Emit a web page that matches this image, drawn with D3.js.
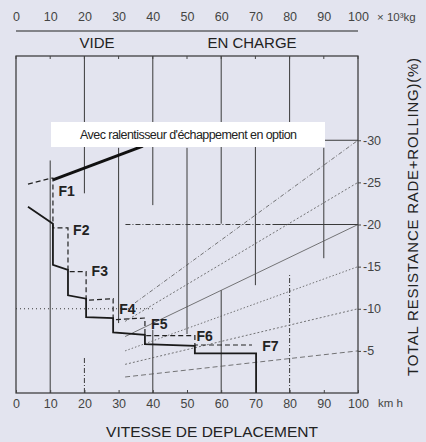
<!DOCTYPE html>
<html>
<head>
<meta charset="utf-8">
<script src="https://cdnjs.cloudflare.com/ajax/libs/d3/7.8.5/d3.min.js"></script>
<style>
  body { margin: 0; background: #e3e4ef; }
  svg { display: block; font-family: "Liberation Sans", Arial, sans-serif; }
</style>
</head>
<body>
<svg></svg>
<script>
// tick values
let speedTicks = [0, 10, 20, 30, 40, 50, 60, 70, 80, 90, 100];
let weightTicks = [0, 10, 20, 30, 40, 50, 60, 70, 80, 90, 100];
let resistTicks = [5, 10, 15, 20, 25, 30];

let gears = ["F1", "F2", "F3", "F4", "F5", "F6", "F7"];
// where each gear label sits [km/h, %]
let gearLabelAt = [[12.4, 23.4], [16.7, 18.8], [22.1, 13.9], [30.2, 9.4], [39.5, 7.6], [52.8, 6.2], [72.0, 5.0]];

// main curve (solid), [km/h, %]
let rimpull = [[3.5, 22.1], [10.8, 20.1], [10.8, 15.2], [15.2, 14.6], [15.2, 11.6], [20.5, 11.2],
  [20.5, 9.0], [28.4, 8.9], [28.4, 7.2], [37.7, 6.9], [37.7, 5.8], [52.3, 5.6], [52.3, 4.7],
  [70.2, 4.7], [70.2, 0]];

// gear steps (dashed)
let gearSteps = [[3.5, 24.8], [10.2, 25.5], [10.8, 25.5], [10.8, 19.6], [15.2, 19.6], [15.2, 14.4],
  [20.5, 14.4], [20.5, 11.0], [28.4, 11.2], [28.4, 8.7], [37.7, 8.9], [37.7, 6.8], [52.3, 6.8],
  [52.3, 5.7], [69.0, 5.7]];

// retarder line
let retarder = [[10.8, 25.3], [37.1, 29.3]];

// resistance lines: start point, end value at 100
let gradeStart = [[34.8, 10.7], [31.9, 8.5], [31.9, 6.7], [31.9, 5.0], [31.9, 3.4], [31.9, 1.9]];
let gradeEnd = [30, 25, 20, 15, 10, 5];

// vertical grid pieces [km/h, from %, to %]
let gridSolid = [[10, 0, 27.6], [20, 23.7, 40], [30, 8.3, 29.1], [40, 22.3, 40], [40, 0, 7.5],
  [50, 7.0, 29.1], [60, 20.1, 40], [60, 0, 12.2], [70, 12.8, 30], [80, 32.1, 40], [90, 16.0, 29.1]];
let gridDashDot = [[20, 0, 4.3], [80, 0, 14]];
// horizontal grid pieces [%, from km/h, to km/h]
let hSolid = [[30, 70, 100], [20, 75, 100]];
let hDashDot = [[20, 32, 75]];
let hDotted = [[10, 0, 40]];

let width = 426;
let height = 442;
let padLeft = 16, padRight = 358, padTop = 56, padBottom = 393;

let svg = d3.select("svg").attr("width", width).attr("height", height);

let xScale = d3.scaleLinear().domain([0, 100]).range([padLeft, padRight]);
let yScale = d3.scaleLinear().domain([0, 40]).range([padBottom, padTop]);

let line = d3.line().x(d => xScale(d[0])).y(d => yScale(d[1]));

// grid
let drawV = (segs, dash) => {
  svg.append("g").selectAll("line")
     .data(segs)
     .enter()
     .append("line")
     .attr("x1", d => xScale(d[0])).attr("x2", d => xScale(d[0]))
     .attr("y1", d => yScale(d[1])).attr("y2", d => yScale(d[2]))
     .attr("stroke", "#3a3a3a")
     .attr("stroke-width", 1)
     .attr("stroke-dasharray", dash)
}
let drawH = (segs, dash) => {
  svg.append("g").selectAll("line")
     .data(segs)
     .enter()
     .append("line")
     .attr("y1", d => yScale(d[0])).attr("y2", d => yScale(d[0]))
     .attr("x1", d => xScale(d[1])).attr("x2", d => xScale(d[2]))
     .attr("stroke", "#3a3a3a")
     .attr("stroke-width", 1)
     .attr("stroke-dasharray", dash)
}
drawV(gridSolid, null);
drawV(gridDashDot, "5,2,1,2");
drawH(hSolid, null);
drawH(hDashDot, "5,2,1,2");
drawH(hDotted, "1,3");

// resistance lines
let gradeDash = ["4,2,1,2", "2,2", null, "1.5,2", "2,2", "5,3"];
svg.append("g").selectAll("line")
   .data(gradeEnd)
   .enter()
   .append("line")
   .attr("x1", (d, i) => xScale(gradeStart[i][0]))
   .attr("y1", (d, i) => yScale(gradeStart[i][1]))
   .attr("x2", xScale(100))
   .attr("y2", d => yScale(d))
   .attr("stroke", "#555")
   .attr("stroke-width", 0.8)
   .attr("stroke-dasharray", (d, i) => gradeDash[i]);

// frame
svg.append("rect")
   .attr("x", padLeft).attr("y", padTop)
   .attr("width", padRight - padLeft).attr("height", padBottom - padTop)
   .attr("fill", "none")
   .attr("stroke", "#333")
   .attr("stroke-width", 1.2);

// small ticks on top of frame
svg.append("g").selectAll("line")
   .data(speedTicks)
   .enter()
   .append("line")
   .attr("x1", d => xScale(d)).attr("x2", d => xScale(d))
   .attr("y1", padTop).attr("y2", padTop + 3)
   .attr("stroke", "#444");

// curves
svg.append("path")
   .datum(gearSteps)
   .attr("d", line)
   .attr("fill", "none")
   .attr("stroke", "#222")
   .attr("stroke-width", 1.2)
   .attr("stroke-dasharray", "5,3");

svg.append("path")
   .datum(rimpull)
   .attr("d", line)
   .attr("fill", "none")
   .attr("stroke", "#1a1a1a")
   .attr("stroke-width", 1.8);

svg.append("path")
   .datum(retarder)
   .attr("d", line)
   .attr("fill", "none")
   .attr("stroke", "#111")
   .attr("stroke-width", 3);

svg.append("g").selectAll("text")
   .data(gears)
   .enter()
   .append("text")
   .attr("x", (d, i) => xScale(gearLabelAt[i][0]))
   .attr("y", (d, i) => yScale(gearLabelAt[i][1]))
   .attr("font-size", 14)
   .attr("font-weight", "bold")
   .attr("fill", "#222")
   .text(d => d);

// option label box
svg.append("rect")
   .attr("x", 51).attr("y", 122)
   .attr("width", 274).attr("height", 25)
   .attr("fill", "#fff");
svg.append("text")
   .attr("x", 80).attr("y", 139)
   .attr("font-size", 12.5)
   .attr("textLength", 217)
   .attr("fill", "#222")
   .text("Avec ralentisseur d'échappement en option");

// axes
let styleAxis = (g) => {
  g.select(".domain").remove();
  g.selectAll("text").attr("fill", "#444").attr("font-size", 12.5).attr("font-family", "Liberation Sans, Arial, sans-serif");
  g.selectAll("line").attr("stroke", "#444");
}

svg.append("g")
   .attr("transform", "translate(0," + padBottom + ")")
   .call(d3.axisBottom(xScale).tickValues(speedTicks).tickSizeInner(-3).tickSizeOuter(0).tickPadding(6))
   .call(styleAxis);

let wScale = d3.scaleLinear().domain([0, 100]).range([padLeft, padRight]);
svg.append("g")
   .attr("transform", "translate(0,31)")
   .call(d3.axisTop(wScale).tickValues(weightTicks).tickSize(0).tickPadding(10))
   .call(styleAxis);
svg.append("line")
   .attr("x1", padLeft).attr("x2", padRight)
   .attr("y1", 31).attr("y2", 31)
   .attr("stroke", "#222").attr("stroke-width", 1.2);

svg.append("g")
   .attr("transform", "translate(" + padRight + ",0)")
   .call(d3.axisRight(yScale).tickValues(resistTicks).tickSize(3).tickPadding(2).tickFormat(d => "-" + d))
   .call(styleAxis);

// titles
svg.append("text").attr("x", 377).attr("y", 21).attr("font-size", 11.5).attr("fill", "#444").text("× 10³kg");
svg.append("text").attr("x", 378).attr("y", 407).attr("font-size", 11.5).attr("fill", "#444").text("km h");

svg.append("text").attr("x", 97).attr("y", 48).attr("text-anchor", "middle")
   .attr("font-size", 15).attr("fill", "#222").text("VIDE");
svg.append("text").attr("x", 252).attr("y", 48).attr("text-anchor", "middle")
   .attr("font-size", 15).attr("fill", "#222").text("EN CHARGE");

svg.append("text").attr("x", 212).attr("y", 437).attr("text-anchor", "middle")
   .attr("font-size", 15.5).attr("fill", "#222").text("VITESSE DE DEPLACEMENT");

svg.append("text")
   .attr("transform", "translate(418,217) rotate(-90)")
   .attr("text-anchor", "middle")
   .attr("font-size", 15)
   .attr("textLength", 318)
   .attr("fill", "#222")
   .text("TOTAL RESISTANCE  RADE+ROLLING)(%)");
</script>
</body>
</html>
